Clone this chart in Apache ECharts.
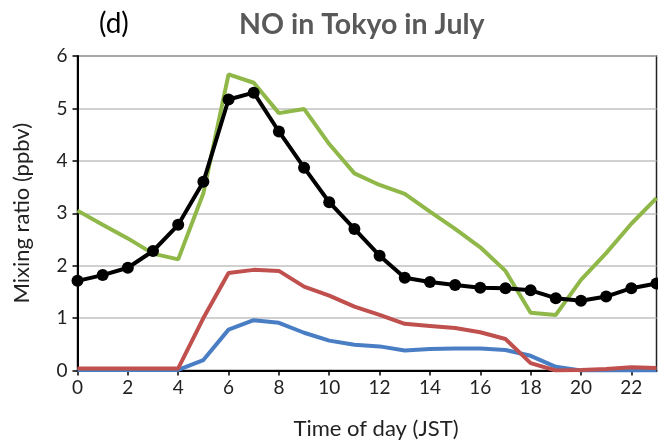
<!DOCTYPE html>
<html><head><meta charset="utf-8">
<script src="https://cdn.jsdelivr.net/npm/echarts@6/dist/echarts.min.js"></script>
<style>html,body{margin:0;padding:0;background:#fff}#c{width:658px;height:441px}</style>
</head><body><div id="c"></div>
<script>
var hours = ['0','1','2','3','4','5','6','7','8','9','10','11','12','13','14','15','16','17','18','19','20','21','22','23'];
var blackSeries = [1.71,1.82,1.96,2.28,2.78,3.60,5.17,5.30,4.56,3.87,3.21,2.70,2.19,1.77,1.69,1.63,1.58,1.57,1.53,1.38,1.33,1.41,1.57,1.66];
var greenSeries = [3.05,2.78,2.52,2.23,2.12,3.38,5.65,5.49,4.91,4.99,4.32,3.76,3.54,3.37,3.03,2.70,2.35,1.90,1.10,1.06,1.73,2.24,2.80,3.29];
var redSeries = [0.04,0.04,0.04,0.04,0.04,1.00,1.86,1.92,1.90,1.60,1.43,1.22,1.06,0.89,0.85,0.81,0.73,0.60,0.14,0.00,0.01,0.03,0.06,0.05];
var blueSeries = [0.01,0.01,0.01,0.01,0.01,0.20,0.78,0.96,0.91,0.72,0.57,0.49,0.46,0.38,0.41,0.42,0.42,0.39,0.28,0.07,0.00,0.00,0.00,0.00];
var yTicks = [0,1,2,3,4,5,6];

var font = 'Lato';
var chart = echarts.init(document.getElementById('c'));
function line(data, color, marker) {
  return {
    type: 'line', data: data, smooth: false,
    lineStyle: {color: color, width: 4},
    itemStyle: {color: color},
    symbol: marker ? 'circle' : 'none',
    symbolSize: 12, showSymbol: marker,
    animation: false, z: marker ? 5 : 3
  };
}
chart.setOption({
  animation: false,
  title: [
    {text: '(d)', left: 94, top: 5, textStyle: {fontFamily: font, fontSize: 28, fontWeight: 'normal', color: '#000'}},
    {text: 'NO in Tokyo in July', left: 234, top: 5, textStyle: {fontFamily: font, fontSize: 28.5, fontWeight: 'bold', color: '#595959'}}
  ],
  grid: {left: 77.5, right: 1.5, top: 56, bottom: 70.5, show: true, borderColor: '#222', borderWidth: 1.5, outerBoundsMode: 'none', containLabel: false},
  xAxis: {
    type: 'category', data: hours, boundaryGap: false,
    name: 'Time of day (JST)', nameLocation: 'middle', nameGap: 47,
    nameTextStyle: {fontFamily: font, fontSize: 22, color: '#222', padding: [0, 0, 0, 18]},
    axisLine: {lineStyle: {color: '#000', width: 2}},
    axisTick: {show: true, interval: 1, length: 5, lineStyle: {color: '#000', width: 1.5}},
    axisLabel: {interval: 1, fontFamily: font, fontSize: 19, color: '#222', margin: 8},
    splitLine: {show: false}
  },
  yAxis: {
    type: 'value', min: yTicks[0], max: yTicks[yTicks.length - 1], interval: 1,
    name: 'Mixing ratio (ppbv)', nameLocation: 'middle', nameGap: 45,
    nameTextStyle: {fontFamily: font, fontSize: 22, color: '#222'},
    axisLine: {show: true, lineStyle: {color: '#000', width: 2}},
    axisTick: {show: true, length: 5, lineStyle: {color: '#000', width: 1.5}},
    axisLabel: {fontFamily: font, fontSize: 19, color: '#222', margin: 10},
    splitLine: {lineStyle: {color: '#c0c0c0', width: 1.5}}
  },
  series: [
    line(blueSeries, '#4a7ec4', false),
    line(redSeries, '#c0504d', false),
    line(greenSeries, '#8fb849', false),
    line(blackSeries, '#000000', true)
  ]
});
</script>
</body></html>
